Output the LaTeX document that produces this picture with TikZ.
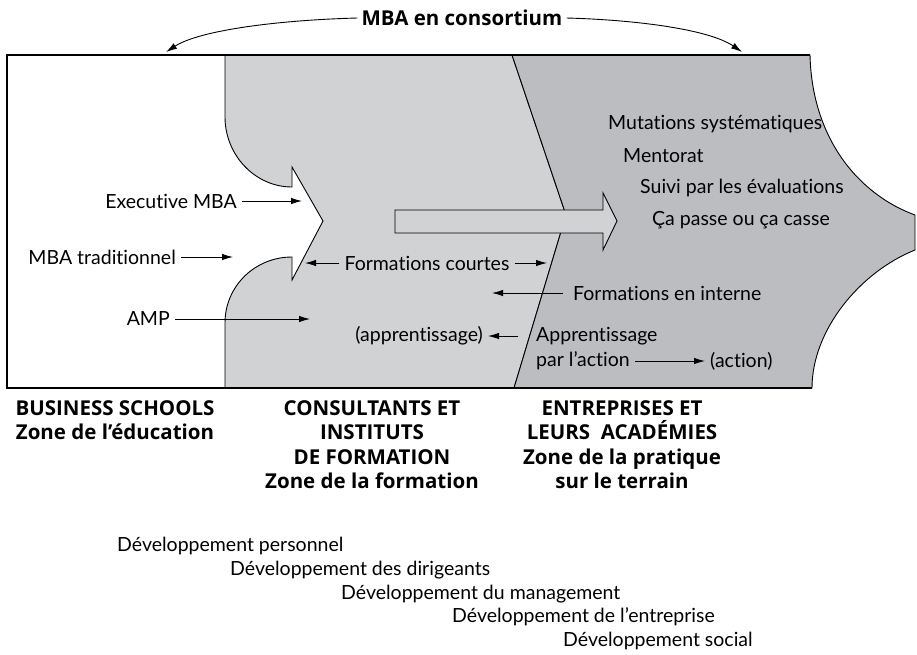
\documentclass[tikz,border=0pt]{standalone}
\usepackage{fontspec}
\setmainfont{Lato}[Ligatures=NoCommon]
\newfontfamily\headfont{Open Sans}
\usetikzlibrary{arrows.meta}
\definecolor{lightzone}{RGB}{209,210,212}
\definecolor{darkzone}{RGB}{188,189,193}
\tikzset{
    label-text/.style = {inner xsep=5pt, inner ysep=1pt, font=\fontsize{19.5}{23}\selectfont},
    head-text/.style = {align=center, inner sep=0pt, font=\headfont\bfseries\fontsize{20.5}{24.5}\selectfont},
    thin-arrow/.style = {-{Latex[length=11pt,width=6.5pt]}, line width=0.9pt},
    zone-line/.style = {draw=black, line width=0.9pt},
}

\begin{document}
\begin{tikzpicture}[x=1pt,y=-1pt]
\useasboundingbox (0,0) rectangle (917,654);

% the three zones
\fill[white] (7,55) rectangle (812,388);
\filldraw[zone-line, fill=lightzone] (225,55) -- (512,55) -- (566,215) -- (514,388) -- (225,388) -- (225,323)
    .. controls (225,286) and (255,257) .. (292,257) -- (292,280) -- (323,221) -- (292,167) -- (292,187)
    .. controls (255,187) and (225,155) .. (225,117) -- cycle;
\filldraw[zone-line, fill=darkzone] (512,55) -- (810,55) .. controls (812,140) and (860,195) .. (915,215)
    -- (915,250) .. controls (860,272) and (812,330) .. (812,388) -- (514,388) -- (566,215) -- cycle;
\draw[line width=1.1pt] (810,55) -- (7,55) -- (7,388) -- (812,388);

% big arrow across the zones
\filldraw[zone-line, fill=lightzone] (395,210) -- (603,210) -- (603,193) -- (617,221) -- (603,250) -- (603,233) -- (395,233) -- cycle;

% MBA en consortium
\node[head-text] (consort) at (462,18) {MBA en consortium};
\coordinate (consortleft) at (166,52);
\coordinate (consortright) at (742,52);
\draw[thin-arrow] ([xshift=-4pt]consort.west) .. controls (280,20) and (200,30) .. (consortleft);
\draw[thin-arrow] ([xshift=4pt]consort.east) .. controls (640,20) and (710,30) .. (consortright);

% business schools side
\node[label-text, anchor=east] (exec) at (242,201) {Executive MBA};
\node[label-text, anchor=east] (trad) at (181,257) {MBA traditionnel};
\node[label-text, anchor=east] (amp) at (175,319) {AMP};
\coordinate (execend) at (302,201);
\coordinate (tradend) at (233,257);
\coordinate (ampend) at (310,319);
\draw[thin-arrow] (exec) -- (execend);
\draw[thin-arrow] (trad) -- (tradend);
\draw[thin-arrow] (amp) -- (ampend);

% consultants side
\node[label-text] (courtes) at (427,263) {Formations courtes};
\coordinate (courtesleft) at (305,263);
\coordinate (courtesright) at (547,263);
\draw[thin-arrow] (courtes) -- (courtesleft);
\draw[thin-arrow] (courtes) -- (courtesright);

\node[label-text, anchor=west] (interne) at (568,293) {Formations en interne};
\coordinate (interneend) at (492,293);
\draw[thin-arrow] ([xshift=-5pt]interne.west) -- (interneend);

\node[label-text, anchor=east] (learn) at (488,336) {(apprentissage)};
\node[label-text, anchor=west] (actone) at (531,336) {Apprentissage};
\node[label-text, anchor=west] (acttwo) at (531,361) {par l’action};
\node[label-text, anchor=west] (action) at (705,361) {(action)};
\draw[thin-arrow] ([xshift=-13pt]actone.west) -- (learn.east);
\draw[thin-arrow] (acttwo) -- (action);

% entreprises side
\node[label-text, anchor=west] (mutation) at (603,124) {Mutations systématiques};
\node[label-text, anchor=west] (mentor) at (618,156) {Mentorat};
\node[label-text, anchor=west] (suivi) at (635,188) {Suivi par les évaluations};
\node[label-text, anchor=west] (casse) at (647,220) {Ça passe ou ça casse};

% zone titles
\node[head-text, anchor=north] (schools) at (115,400) {BUSINESS SCHOOLS\\Zone de l’éducation};
\node[head-text, anchor=north] (consult) at (372,400) {CONSULTANTS ET\\INSTITUTS\\DE FORMATION\\Zone de la formation};
\node[head-text, anchor=north] (academy) at (622,400) {ENTREPRISES ET\\LEURS\ \ ACADÉMIES\\Zone de la pratique\\sur le terrain};

% developpement ladder
\node[label-text, anchor=west] (devone) at (112,546) {Développement personnel};
\node[label-text, anchor=west] (devtwo) at (225,570) {Développement des dirigeants};
\node[label-text, anchor=west] (devthree) at (336,594) {Développement du management};
\node[label-text, anchor=west] (devfour) at (447,617) {Développement de l’entreprise};
\node[label-text, anchor=west] (devfive) at (558,641) {Développement social};
\end{tikzpicture}
\end{document}
